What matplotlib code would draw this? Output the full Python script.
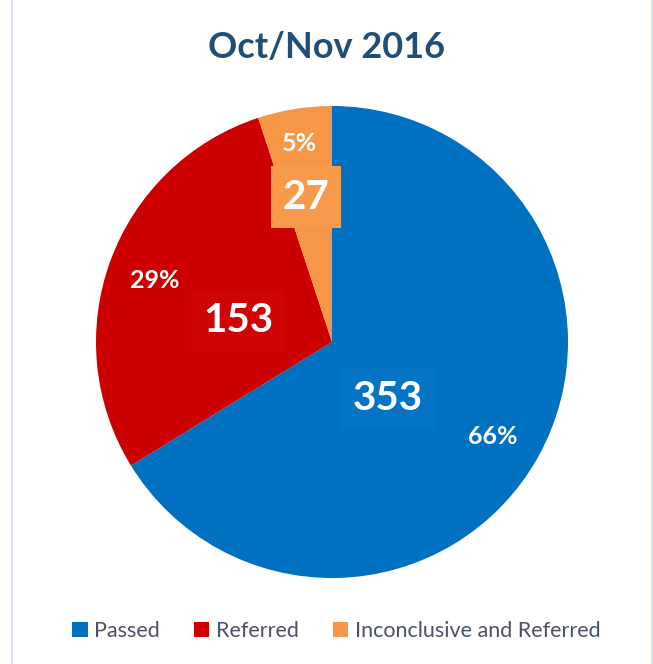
import matplotlib
matplotlib.use("Agg")
import matplotlib.pyplot as plt
from matplotlib.patches import Rectangle

categories = ["Passed", "Referred", "Inconclusive and Referred"]
counts = [353, 153, 27]
percents = ["66%", "29%", "5%"]
colors = ["#0070C0", "#CC0000", "#F79646"]
box_colors = ["#0674C4", "#D00404", "#F89A4C"]

plt.rcParams["font.family"] = ["Lato", "DejaVu Sans"]

fig = plt.figure(figsize=(6.53, 6.64), dpi=100)

# light frame lines at the sides
fig.add_artist(Rectangle((12 / 653, -0.1), (652 - 12) / 653, 1.2,
                         transform=fig.transFigure, fill=False,
                         edgecolor="#D6E2F0", linewidth=1.5))

ax = fig.add_axes([96 / 653, (664 - 578) / 664, 472 / 653, 472 / 664])
wedges, _ = ax.pie(counts, colors=colors, startangle=90, counterclock=False,
                   radius=1)
ax.set_xlim(-1, 1)
ax.set_ylim(-1, 1)

def to_data(px, py):
    # pixel position in the picture -> pie data coords
    r = 236.0
    return (px - 332) / r, (342 - py) / r

# value labels (boxed) and percentage labels
value_pos = [(388, 398), (238, 321), (306, 197)]
pct_pos = [(493, 437), (155, 280), (299, 143)]
for i in range(len(counts)):
    x, y = to_data(*value_pos[i])
    ax.text(x, y, str(counts[i]), ha="center", va="center", color="white",
            fontsize=29, fontweight="bold",
            bbox=dict(boxstyle="square,pad=0.3", facecolor=box_colors[i],
                      edgecolor="none"))
    x, y = to_data(*pct_pos[i])
    ax.text(x, y, percents[i], ha="center", va="center", color="white",
            fontsize=18, fontweight="bold")

fig.text(0.5, 1 - 47 / 664, "Oct/Nov 2016", ha="center", va="center",
         fontsize=26, fontweight="bold", color="#1F4E79")

handles = [Rectangle((0, 0), 1, 1, facecolor=c) for c in colors]
fig.legend(handles, categories, loc="center", bbox_to_anchor=(0.515, 1 - 631 / 664),
           ncol=3, frameon=False, fontsize=15.5, handlelength=0.7, handleheight=0.7,
           handletextpad=0.3, columnspacing=1.6, labelcolor="#44546A")

fig.savefig("out.png", dpi=100)
